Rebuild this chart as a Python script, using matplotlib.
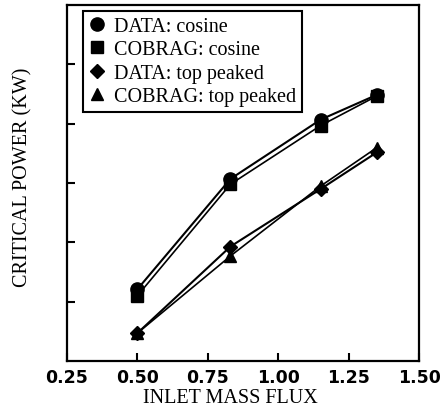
import matplotlib
matplotlib.use("Agg")
import matplotlib.pyplot as plt

# inlet mass flux values shared by all four series
mass_flux = [0.50, 0.83, 1.15, 1.35]

# critical power, arbitrary units (axis is unlabeled)
data_cosine = [1.21, 3.07, 4.07, 4.49]
cobrag_cosine = [1.10, 2.98, 3.97, 4.47]
data_top = [0.47, 1.93, 2.90, 3.52]
cobrag_top = [0.47, 1.77, 2.95, 3.60]

series = [
    ("DATA: cosine", data_cosine, "o", 9.5, 1.5),
    ("COBRAG: cosine", cobrag_cosine, "s", 8, 1.2),
    ("DATA: top peaked", data_top, "D", 7.5, 1.5),
    ("COBRAG: top peaked", cobrag_top, "^", 9, 1.2),
]

serif = "Liberation Serif"
fig = plt.figure(figsize=(4.4, 4.1), dpi=100)
ax = fig.add_axes([0.152, 0.117, 0.801, 0.868])

for label, vals, mk, ms, lw in series:
    ax.plot(mass_flux, vals, color="black", linestyle="-", linewidth=lw,
            marker=mk, markersize=ms, markerfacecolor="black",
            markeredgecolor="black", label=label)

ax.set_xlim(0.25, 1.50)
ax.set_ylim(0, 6)
ax.set_xticks([0.25, 0.50, 0.75, 1.00, 1.25, 1.50])
ax.set_yticks([1, 2, 3, 4, 5])
ax.set_yticklabels([])
ax.tick_params(direction="in", length=6, width=1.5, pad=5)
for lbl in ax.get_xticklabels():
    lbl.set_fontfamily("DejaVu Sans")
    lbl.set_fontweight("bold")
    lbl.set_fontsize(12.5)
for sp in ax.spines.values():
    sp.set_linewidth(1.6)

ax.set_xlabel("INLET MASS FLUX", fontfamily=serif, fontsize=14.5, labelpad=0)
ax.xaxis.set_label_coords(0.465, -0.075)
ax.set_ylabel("CRITICAL POWER (KW)", fontfamily=serif, fontsize=14.5)
ax.yaxis.set_label_coords(-0.097, 0.52)

leg = ax.legend(loc="upper left", bbox_to_anchor=(0.045, 0.983),
                prop={"family": serif, "size": 14.5}, handlelength=0.8,
                handletextpad=0.45, labelspacing=0.2, borderpad=0.3,
                borderaxespad=0, fancybox=False, framealpha=1)
leg.get_frame().set_edgecolor("black")
leg.get_frame().set_linewidth(1.5)
for h in leg.legend_handles:
    h.set_linestyle("none")

fig.savefig("out.png", dpi=100)
